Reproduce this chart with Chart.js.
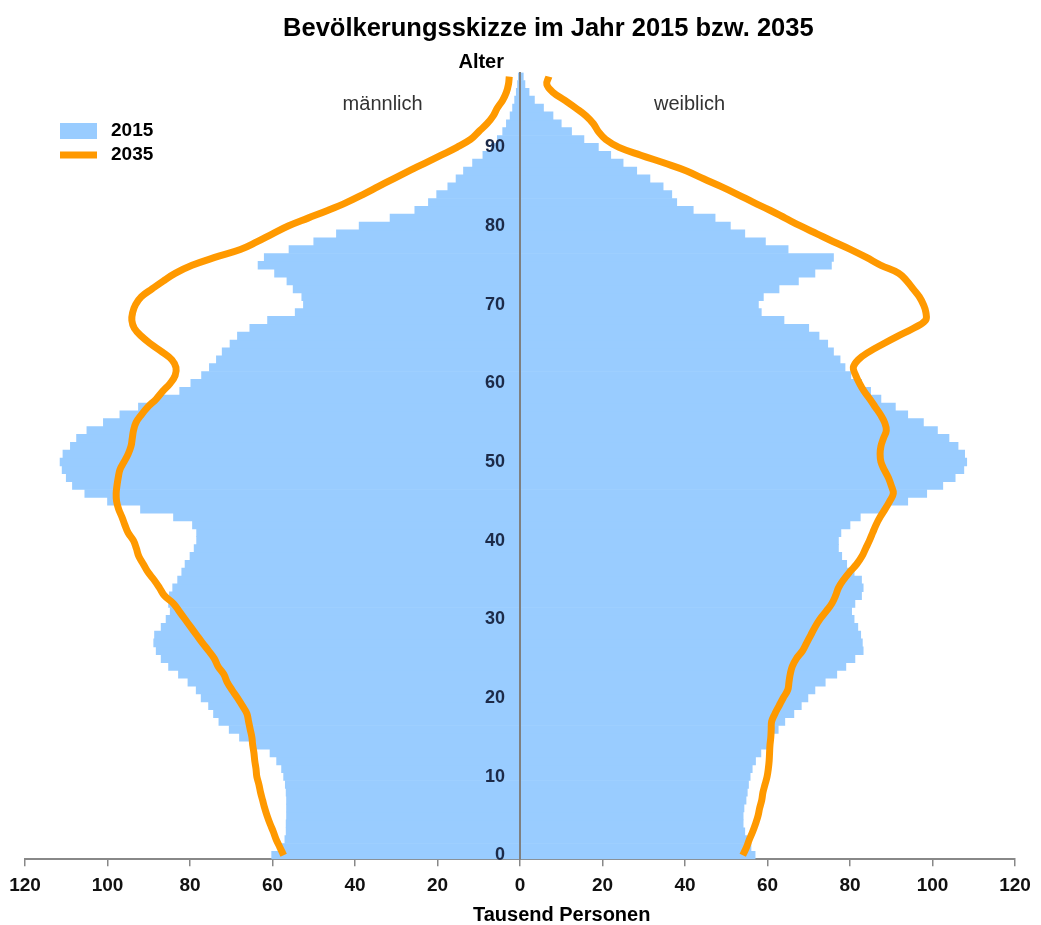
<!DOCTYPE html>
<html lang="de">
<head>
<meta charset="UTF-8">
<title>Bevölkerungsskizze</title>
<script src="https://cdn.jsdelivr.net/npm/chart.js"></script>
<style>
  html, body { margin: 0; padding: 0; background: #fff; }
  #wrap { width: 1041px; height: 925px; }
</style>
</head>
<body>
<div id="wrap"><canvas id="pyramide"></canvas></div>
<script>
// Altersjahre 0 bis 99
const alter = Array.from({length: 100}, (_, i) => String(i));

// Tausend Personen, 2015 (Balken)
const maenner2015 = [
  60.2, 57.8, 57.0, 56.7, 56.7, 56.6, 56.6, 56.6, 56.7, 56.9,
  57.3, 57.8, 59.0, 60.6, 64.0, 68.0, 70.5, 73.0, 74.3, 75.5,
  77.3, 78.5, 80.5, 82.8, 85.2, 87.0, 88.2, 88.8, 88.6, 87.0,
  85.8, 84.8, 85.2, 85.0, 84.2, 83.0, 82.0, 81.2, 80.0, 79.0,
  78.4, 78.4, 79.4, 84.0, 92.0, 100.0, 105.5, 108.5, 110.0, 111.0,
  111.5, 110.8, 109.0, 107.5, 105.0, 101.0, 97.0, 92.5, 88.0, 82.5,
  79.8, 77.2, 75.3, 73.6, 72.2, 70.3, 68.5, 65.5, 61.2, 54.5,
  52.5, 52.9, 55.0, 56.5, 59.5, 63.5, 62.0, 56.0, 50.0, 44.5,
  39.0, 31.5, 25.5, 22.2, 20.2, 17.5, 15.5, 13.7, 11.5, 9.0,
  7.0, 5.5, 4.2, 3.3, 2.4, 1.8, 1.3, 0.9, 0.6, 0.4
];
const frauen2015 = [
  57.0, 56.0, 55.0, 54.5, 54.1, 54.1, 54.3, 54.8, 55.1, 55.4,
  55.8, 56.3, 57.1, 58.4, 59.8, 61.2, 62.6, 64.2, 66.4, 68.2,
  69.8, 71.5, 74.0, 76.8, 79.0, 81.2, 83.2, 83.0, 82.6, 81.9,
  81.0, 80.4, 81.2, 82.8, 83.2, 82.8, 81.0, 79.2, 78.0, 77.2,
  77.2, 77.8, 80.0, 82.5, 88.5, 94.0, 98.6, 102.5, 105.5, 107.6,
  108.3, 107.8, 106.2, 104.0, 101.2, 97.8, 94.0, 91.0, 87.5, 85.0,
  82.8, 80.2, 78.8, 77.6, 76.0, 74.6, 72.5, 70.0, 64.0, 58.5,
  57.8, 59.0, 62.8, 67.5, 71.5, 75.5, 76.0, 65.0, 59.5, 54.5,
  51.0, 47.3, 42.0, 38.0, 36.8, 34.7, 31.5, 28.3, 25.0, 22.0,
  19.0, 15.5, 12.5, 10.0, 8.0, 5.7, 3.5, 2.2, 1.2, 0.8
];

// Tausend Personen, 2035 (Linie)
const maenner2035 = [
  57.3, 58.2, 59.1, 59.8, 60.6, 61.3, 61.9, 62.4, 62.9, 63.3,
  63.8, 64.0, 64.3, 64.5, 64.8, 65.0, 65.4, 65.8, 66.2, 67.3,
  68.5, 69.8, 71.0, 71.8, 73.2, 74.1, 75.5, 77.0, 78.4, 79.8,
  81.2, 82.6, 84.0, 86.2, 87.4, 88.7, 90.2, 91.3, 92.4, 93.0,
  93.7, 95.0, 95.8, 96.5, 97.3, 97.8, 97.9, 97.7, 97.4, 97.0,
  96.0, 95.0, 94.3, 94.0, 93.7, 93.1, 91.8, 90.2, 88.2, 86.6,
  84.8, 83.6, 83.4, 84.4, 86.8, 89.5, 91.8, 93.5, 94.1, 93.9,
  93.2, 91.8, 89.2, 86.5, 83.5, 79.5, 74.0, 67.8, 63.7, 60.0,
  56.2, 51.4, 46.5, 42.0, 38.1, 34.4, 30.7, 26.9, 23.0, 19.1,
  15.3, 12.0, 10.0, 8.0, 6.5, 5.5, 4.2, 3.3, 2.8, 2.6
];
const frauen2035 = [
  54.0, 54.9, 55.6, 56.4, 57.1, 57.7, 58.1, 58.6, 58.9, 59.4,
  59.9, 60.2, 60.4, 60.5, 60.6, 60.8, 60.9, 61.0, 61.8, 62.8,
  63.8, 64.9, 65.2, 65.5, 66.0, 67.0, 68.5, 69.5, 70.5, 71.5,
  72.7, 74.2, 75.6, 76.5, 77.2, 78.4, 79.9, 81.6, 82.9, 83.8,
  84.7, 85.5, 86.3, 87.3, 88.5, 89.6, 90.5, 90.0, 89.3, 88.3,
  87.5, 87.3, 87.5, 88.1, 88.8, 88.4, 87.4, 86.1, 84.8, 83.4,
  82.3, 81.4, 80.8, 82.0, 84.6, 88.0, 91.6, 95.4, 98.3, 98.4,
  97.8, 96.8, 95.3, 93.8, 91.8, 87.5, 84.0, 80.2, 76.0, 72.0,
  68.0, 64.3, 60.6, 56.6, 52.8, 48.8, 44.5, 40.4, 35.0, 29.3,
  24.0, 20.8, 19.0, 17.8, 16.0, 13.5, 10.8, 8.0, 6.5, 7.0
];

const xTicks = [-120, -100, -80, -60, -40, -20, 0, 20, 40, 60, 80, 100, 120];

const blau = '#99CCFF';
const orange = '#FF9900';
const schrift = '"Liberation Sans", Arial, sans-serif';

// Beschriftungen und Legende im Diagramm
const beschriftung = {
  id: 'beschriftung',
  afterDraw(chart) {
    const {ctx, chartArea, scales: {x, y}} = chart;
    ctx.save();
    ctx.textBaseline = 'middle';

    ctx.font = '20px ' + schrift;
    ctx.fillStyle = '#333333';
    ctx.textAlign = 'center';
    ctx.fillText('männlich', x.getPixelForValue(-33.3), y.getPixelForValue(95.5));
    ctx.fillText('weiblich', x.getPixelForValue(41.1), y.getPixelForValue(95.5));

    ctx.font = 'bold 20px ' + schrift;
    ctx.fillStyle = '#000000';
    ctx.textAlign = 'right';
    ctx.fillText('Alter', x.getPixelForValue(0) - 16, chartArea.top - 10);

    // Legende: 2015 als Fläche, 2035 als Linie
    const lx = 60, ly = 131, zeile = 24;
    ctx.fillStyle = blau;
    ctx.fillRect(lx, ly - 8, 37, 16);
    ctx.strokeStyle = orange;
    ctx.lineWidth = 7;
    ctx.beginPath();
    ctx.moveTo(lx, ly + zeile);
    ctx.lineTo(lx + 37, ly + zeile);
    ctx.stroke();
    ctx.font = 'bold 19px ' + schrift;
    ctx.fillStyle = '#000000';
    ctx.textAlign = 'left';
    ctx.fillText(chart.data.datasets[2].label, lx + 51, ly);
    ctx.fillText(chart.data.datasets[0].label, lx + 51, ly + zeile);
    ctx.restore();
  }
};

const ctx = document.getElementById('pyramide');
new Chart(ctx, {
  type: 'bar',
  data: {
    labels: alter,
    datasets: [
      {
        type: 'line', label: '2035', data: maenner2035.map(v => -v),
        borderColor: orange, borderWidth: 7, pointRadius: 0, tension: 0.4, order: 0
      },
      {
        type: 'line', label: '2035', data: frauen2035,
        borderColor: orange, borderWidth: 7, pointRadius: 0, tension: 0.4, order: 0
      },
      {
        label: '2015', data: maenner2015.map(v => -v),
        backgroundColor: blau, grouped: false, order: 1
      },
      {
        label: '2015', data: frauen2015,
        backgroundColor: blau, grouped: false, order: 1
      }
    ]
  },
  options: {
    indexAxis: 'y',
    responsive: true,
    maintainAspectRatio: false,
    animation: false,
    devicePixelRatio: 1,
    barPercentage: 1,
    categoryPercentage: 1,
    layout: { padding: { left: 25, right: 26, top: 0, bottom: 0 } },
    plugins: {
      legend: { display: false },
      tooltip: { enabled: false },
      title: {
        display: true,
        text: '\u00A0'.repeat(8) + 'Bevölkerungsskizze im Jahr 2015 bzw. 2035',
        color: '#000000',
        font: { family: schrift, size: 25.5, weight: 'bold' },
        padding: { top: 14, bottom: 28 }
      }
    },
    scales: {
      x: {
        min: -120, max: 120,
        afterBuildTicks: axis => { axis.ticks = xTicks.map(v => ({value: v})); },
        ticks: {
          callback: v => Math.abs(v),
          color: '#111111',
          padding: 8,
          maxRotation: 0,
          font: { family: schrift, size: 19, weight: 'bold' }
        },
        grid: { drawOnChartArea: false, drawTicks: true, tickLength: 7, color: '#888888', lineWidth: 1.5 },
        border: { display: true, color: '#888888', width: 2 },
        title: {
          display: true,
          text: '\u00A0'.repeat(15) + 'Tausend Personen',
          color: '#000000',
          font: { family: schrift, size: 20, weight: 'bold', lineHeight: 1.0 },
          padding: { top: 0, bottom: 0 }
        }
      },
      y: {
        type: 'category',
        reverse: true,
        position: { x: 0 },
        grid: { display: false },
        border: { display: true, color: '#7f7f7f', width: 2, z: 1 },
        ticks: {
          z: 1,
          autoSkip: false,
          color: '#1c2a48',
          font: { family: schrift, size: 18, weight: 'bold' },
          callback: function (value) {
            const l = this.getLabelForValue(value);
            return Number(l) % 10 === 0 ? l + '\u00A0\u00A0\u00A0' : '';
          }
        }
      }
    }
  },
  plugins: [beschriftung]
});
</script>
</body>
</html>
